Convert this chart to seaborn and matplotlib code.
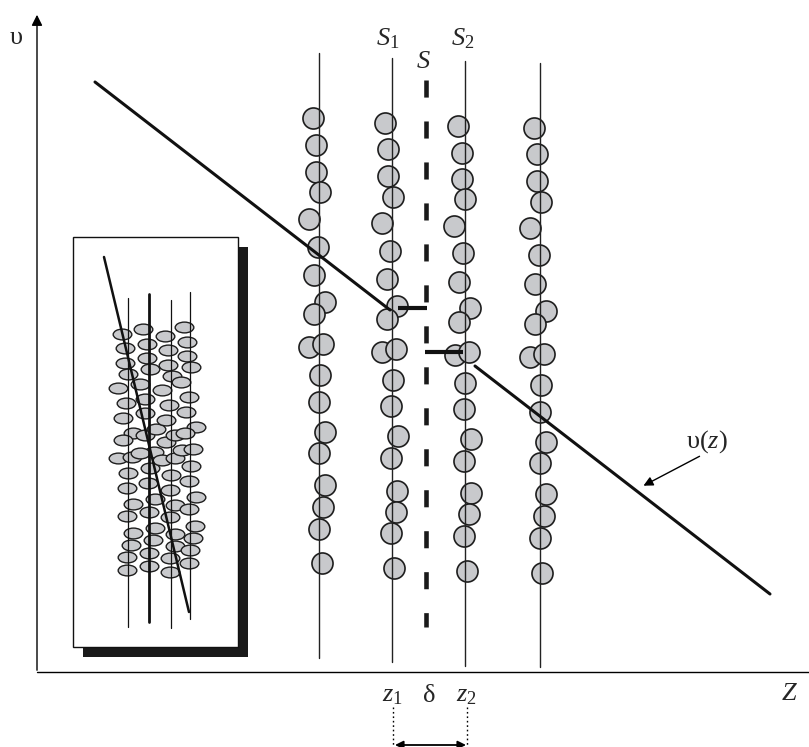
import numpy as np
import pandas as pd
import seaborn as sns
import matplotlib.pyplot as plt
from matplotlib.path import Path
from matplotlib.transforms import Affine2D
from matplotlib.patches import Rectangle

# --- data (picture coordinates, px; y grows downward) ---
# particle centres in the four layers of the main picture
col1_x = [313, 316, 316, 320, 309, 318, 314, 325, 314, 309, 323, 320, 319, 325, 319, 325, 323, 319, 322]
col1_y = [118, 145, 172, 192, 219, 247, 275, 302, 314, 347, 344, 375, 402, 432, 453, 485, 507, 529, 563]
col2_x = [385, 388, 388, 393, 382, 390, 387, 397, 387, 382, 396, 393, 391, 398, 391, 397, 396, 391, 394]
col2_y = [123, 149, 176, 197, 223, 251, 279, 306, 319, 352, 349, 380, 406, 436, 458, 491, 512, 533, 568]
col3_x = [458, 462, 462, 465, 454, 463, 459, 470, 459, 455, 469, 465, 464, 471, 464, 471, 469, 464, 467]
col3_y = [126, 153, 179, 199, 226, 253, 282, 308, 322, 355, 352, 383, 409, 439, 461, 493, 514, 536, 571]
col4_x = [534, 537, 537, 541, 530, 539, 535, 546, 535, 530, 544, 541, 540, 546, 540, 546, 544, 540, 542]
col4_y = [128, 154, 181, 202, 228, 255, 284, 311, 324, 357, 354, 385, 412, 442, 463, 494, 516, 538, 573]

# layer lines
layer_x = [319, 392, 465, 540]
layer_top = [53, 58, 61, 63]
layer_bottom = [658, 662, 666, 667]

# velocity profile pieces v(z)
prof_a_x = [95, 390]
prof_a_y = [82, 310]
stub1_x = [398, 427]
stub1_y = [308, 308]
stub2_x = [425, 463]
stub2_y = [352, 352]
prof_b_x = [475, 770]
prof_b_y = [366, 594]

# inset: ellipse particles
ins_x = [121.7, 125, 125, 128.3, 118.3, 126, 122.7, 132.7, 122.7, 118.3, 131.7, 128.3, 126.7, 132.7, 126.7, 132.7, 131, 126.7, 126.7,
         143.3, 146.7, 146.7, 150, 140, 145, 145, 145, 154, 140, 150, 148.3, 155, 149.3, 155, 153.3, 149.3, 149.3, 156,
         165, 167.7, 167.7, 171.7, 161.7, 169.3, 166, 166, 175, 161.7, 175, 171, 170, 175, 170, 175, 175, 170, 170,
         184.3, 187.3, 187.3, 191, 180.7, 189, 185.7, 195.7, 185, 181.7, 193.3, 191, 189.3, 195.7, 189.3, 195, 193.3, 190, 189.3]
ins_y = [334, 348.3, 362.7, 374, 388.3, 403.3, 418.3, 432.7, 440, 458.3, 456.7, 473.3, 487.7, 504, 516, 532.7, 545, 556.7, 570,
         329.3, 344, 358.3, 369.3, 384, 399.3, 413.3, 435, 451.7, 453.3, 468.3, 483.3, 499.3, 511.7, 528.3, 540, 552.7, 566, 429.3,
         335.7, 350, 365, 375.7, 390, 405, 420, 441.7, 435, 460, 458.3, 475, 490, 505, 517.3, 534, 546, 558.3, 571.7,
         326.7, 341.7, 356, 366.7, 381.7, 396.7, 411.7, 426.7, 432.7, 450, 449.3, 466, 480.7, 497.3, 509.3, 526, 538.3, 550, 563.3]
ins_line_x = [128, 149, 171, 190]
ins_line_top = [298, 294, 300, 292]
ins_line_bottom = [627, 622, 628, 619]
ins_diag_x = [104, 189]
ins_diag_y = [257, 612]

W, H = 809, 747
fill = '#c8c9cc'
edge = '#1e1e1e'

sns.set_style('white')
plt.rcParams['font.family'] = ['Liberation Serif', 'DejaVu Serif']
plt.rcParams['mathtext.fontset'] = 'custom'
plt.rcParams['mathtext.rm'] = 'Liberation Serif'
plt.rcParams['mathtext.it'] = 'Liberation Serif:italic'
plt.rcParams['lines.scale_dashes'] = False

fig = plt.figure(figsize=(W / 100, H / 100), dpi=100)
ax = fig.add_axes([0, 0, 1, 1])
ax.set_xlim(0, W)
ax.set_ylim(H, 0)
ax.axis('off')

# axes of the sketch
ax.plot([37, 809], [672, 672], color='k', lw=1.0)
ax.annotate('', xy=(37, 12), xytext=(37, 673),
            arrowprops=dict(arrowstyle='-|>', lw=1.0, color='k', mutation_scale=16))

# particles of the main picture
df = pd.DataFrame({
    'x': col1_x + col2_x + col3_x + col4_x,
    'y': col1_y + col2_y + col3_y + col4_y,
    'layer': ['1'] * len(col1_x) + ['2'] * len(col2_x) + ['3'] * len(col3_x) + ['4'] * len(col4_x),
})
sns.scatterplot(data=df, x='x', y='y', ax=ax, s=230, color=fill, edgecolor=edge,
                linewidth=1.2, legend=False, zorder=2)

for x, t, b in zip(layer_x, layer_top, layer_bottom):
    ax.plot([x, x], [t, b], color='#222222', lw=1.0, zorder=3)

# dashed plane S
ax.plot([426, 426], [80, 627], color='#1a1a1a', lw=3.3, solid_capstyle='butt',
        dash_capstyle='butt', dashes=(12.3, 17.2), zorder=3)

# velocity profile
ax.plot(prof_a_x, prof_a_y, color='#111111', lw=2.2, zorder=4)
ax.plot(prof_b_x, prof_b_y, color='#111111', lw=2.2, zorder=4)
ax.plot(stub1_x, stub1_y, color='#111111', lw=3.0, zorder=4, solid_capstyle='butt')
ax.plot(stub2_x, stub2_y, color='#111111', lw=3.0, zorder=4, solid_capstyle='butt')

# inset with shadow
ax.add_patch(Rectangle((83, 247), 165, 410, facecolor='#1a1a1a', edgecolor='none', zorder=5))
ax.add_patch(Rectangle((73, 237), 165, 410, facecolor='white', edgecolor='#111111', lw=1.0, zorder=6))

ell = Affine2D().scale(1.0, 0.58).transform_path(Path.unit_circle())
ins_df = pd.DataFrame({'x': ins_x, 'y': ins_y})
sns.scatterplot(data=ins_df, x='x', y='y', ax=ax, marker=ell, s=180, color=fill,
                edgecolor=edge, linewidth=1.0, legend=False, zorder=7)
for i, (x, t, b) in enumerate(zip(ins_line_x, ins_line_top, ins_line_bottom)):
    ax.plot([x, x], [t, b], color='#111111', lw=2.0 if i == 1 else 0.9, zorder=8)
ax.plot(ins_diag_x, ins_diag_y, color='#111111', lw=1.8, zorder=8)

# labels
fs = 19
ax.text(376, 45, r'$S_1$', fontsize=fs, ha='left', va='baseline')
ax.text(451, 45, r'$S_2$', fontsize=fs, ha='left', va='baseline')
ax.text(416, 68, r'$S$', fontsize=fs, ha='left', va='baseline')
ax.text(10, 44, 'υ', fontsize=fs, ha='left', va='baseline')
ax.text(781, 700, r'$Z$', fontsize=fs, ha='left', va='baseline')
ax.text(382, 701, r'$z_1$', fontsize=fs, ha='left', va='baseline')
ax.text(456, 701, r'$z_2$', fontsize=fs, ha='left', va='baseline')
ax.text(423, 702, 'δ', fontsize=fs, ha='left', va='baseline')
ax.text(686, 448, 'υ($z$)', fontsize=fs, ha='left', va='baseline')

# v(z) pointer
ax.annotate('', xy=(641, 487), xytext=(702, 455),
            arrowprops=dict(arrowstyle='-|>', lw=1.0, color='k', mutation_scale=14))

# delta span
ax.plot([393, 393], [707, 747], color='k', lw=1.0, ls=(0, (1.2, 2.0)))
ax.plot([467, 467], [707, 747], color='k', lw=1.0, ls=(0, (1.2, 2.0)))
ax.annotate('', xy=(395, 745), xytext=(466, 745),
            arrowprops=dict(arrowstyle='<|-|>', lw=1.3, color='k', mutation_scale=12,
                            shrinkA=0, shrinkB=0))

fig.savefig('out.png', dpi=100)
